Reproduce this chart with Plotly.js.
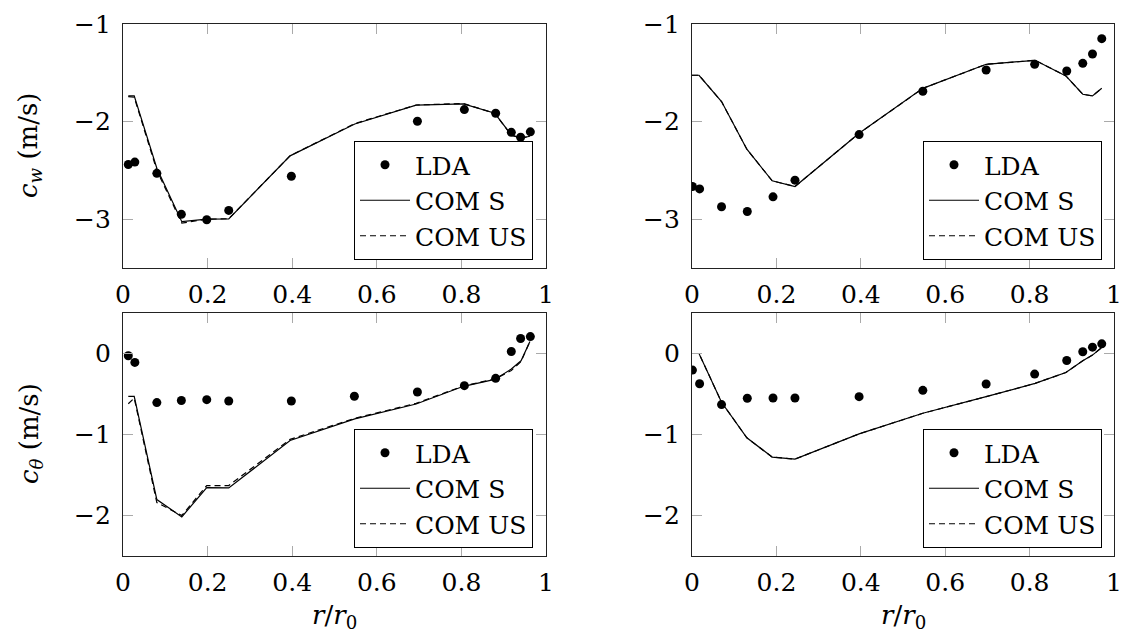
<!DOCTYPE html>
<html>
<head>
<meta charset="utf-8">
<script src="https://cdn.plot.ly/plotly-3.0.1.min.js"></script>
<style>
html,body{margin:0;padding:0;background:#fff;}
#chart{width:1121px;height:637px;}
</style>
</head>
<body>
<div id="chart"></div>
<script>
// ---------- data ----------
const seriesNames = ["LDA", "COM S", "COM US"];
const xTickVals = [0, 0.2, 0.4, 0.6, 0.8, 1];
const yTickValsTop = [-3, -2, -1];
const yTickValsBottom = [-2, -1, 0];

// left column (c_w top, c_theta bottom)
const rLdaTL = [0.0125, 0.028, 0.08, 0.138, 0.198, 0.25, 0.398, 0.696, 0.807, 0.881, 0.918, 0.94, 0.963];
const cwLdaTL = [-2.44, -2.415, -2.53, -2.95, -3.006, -2.91, -2.56, -1.996, -1.877, -1.915, -2.11, -2.16, -2.105];
const rComL = [0.0125, 0.0265, 0.08, 0.139, 0.198, 0.25, 0.395, 0.548, 0.693, 0.805, 0.879, 0.918, 0.941, 0.962];
const cwComSTL = [-1.737, -1.737, -2.477, -3.025, -3.0, -2.997, -2.351, -2.024, -1.832, -1.819, -1.915, -2.136, -2.17, -2.15];
const cwComUSTL = [-1.745, -1.75, -2.5, -3.04, -3.0, -2.995, -2.35, -2.02, -1.83, -1.815, -1.915, -2.14, -2.17, -2.15];

const rLdaBL = [0.0125, 0.028, 0.08, 0.138, 0.198, 0.25, 0.398, 0.547, 0.696, 0.807, 0.881, 0.918, 0.94, 0.963];
const ctLdaBL = [-0.028, -0.11, -0.606, -0.58, -0.57, -0.586, -0.586, -0.528, -0.475, -0.397, -0.307, 0.025, 0.185, 0.209];
const ctComSBL = [-0.53, -0.53, -1.803, -2.017, -1.656, -1.66, -1.074, -0.807, -0.623, -0.405, -0.32, -0.192, -0.09, 0.148];
const ctComUSBL = [-0.62, -0.55, -1.84, -2.0, -1.63, -1.63, -1.06, -0.80, -0.615, -0.40, -0.315, -0.21, -0.1, 0.15];

// right column
const rLdaR = [0.001, 0.018, 0.07, 0.131, 0.192, 0.244, 0.396, 0.547, 0.697, 0.812, 0.888, 0.926, 0.949, 0.971];
const cwLdaTR = [-2.665, -2.69, -2.873, -2.921, -2.771, -2.60, -2.133, -1.689, -1.471, -1.413, -1.481, -1.403, -1.307, -1.15];
const ctLdaBR = [-0.205, -0.373, -0.631, -0.553, -0.549, -0.549, -0.533, -0.455, -0.377, -0.254, -0.086, 0.021, 0.078, 0.119];
const rComR = [0, 0.0166, 0.07, 0.13, 0.19, 0.244, 0.396, 0.547, 0.697, 0.813, 0.886, 0.926, 0.949, 0.971];
const cwComSTR = [-1.525, -1.525, -1.795, -2.283, -2.607, -2.665, -2.12, -1.659, -1.413, -1.372, -1.532, -1.72, -1.737, -1.659];
const cwComUSTR = [-1.525, -1.525, -1.795, -2.283, -2.607, -2.665, -2.12, -1.659, -1.413, -1.372, -1.532, -1.72, -1.737, -1.659];
const ctComSBR = [0.0, 0.0, -0.602, -1.041, -1.279, -1.304, -0.992, -0.738, -0.533, -0.369, -0.234, -0.09, -0.02, 0.074];
const ctComUSBR = [0.0, 0.0, -0.602, -1.041, -1.279, -1.304, -0.992, -0.738, -0.533, -0.369, -0.234, -0.09, -0.02, 0.074];

// ---------- build ----------
const FONT = "DejaVu Serif";
const panels = [
  {xa: "x",  ya: "y",  lg: "legend",  lda: [rLdaTL, cwLdaTL], s: [rComL, cwComSTL], us: [rComL, cwComUSTL]},
  {xa: "x2", ya: "y2", lg: "legend2", lda: [rLdaR, cwLdaTR],  s: [rComR, cwComSTR], us: [rComR, cwComUSTR]},
  {xa: "x3", ya: "y3", lg: "legend3", lda: [rLdaBL, ctLdaBL], s: [rComL, ctComSBL], us: [rComL, ctComUSBL]},
  {xa: "x4", ya: "y4", lg: "legend4", lda: [rLdaR, ctLdaBR],  s: [rComR, ctComSBR], us: [rComR, ctComUSBR]}
];
const traces = [];
panels.forEach(p => {
  traces.push({x: p.lda[0], y: p.lda[1], xaxis: p.xa, yaxis: p.ya, legend: p.lg, name: seriesNames[0],
    type: "scatter", mode: "markers", marker: {color: "#000", size: 9, symbol: "circle"}});
  traces.push({x: p.s[0], y: p.s[1], xaxis: p.xa, yaxis: p.ya, legend: p.lg, name: seriesNames[1],
    type: "scatter", mode: "lines", line: {color: "#000", width: 1.2}});
  traces.push({x: p.us[0], y: p.us[1], xaxis: p.xa, yaxis: p.ya, legend: p.lg, name: seriesNames[2],
    type: "scatter", mode: "lines", line: {color: "#000", width: 1.2, dash: "6px,4px"}});
});

const W = 1121, H = 637;
const colX = [[123 / W, 546 / W], [692 / W, 1114 / W]];
const rowY = [[1 - 268 / H, 1 - 24 / H], [1 - 556 / H, 1 - 313 / H]];

function xAxis(col, row, anchor) {
  return {domain: colX[col], anchor: anchor, range: [0, 1], tickvals: xTickVals,
    ticks: "inside", ticklen: 10, tickwidth: 1, tickcolor: "#aaa", showline: true, linecolor: "#222",
    linewidth: 1.2, mirror: "ticks", showgrid: false, zeroline: false, ticklabeloverflow: "allow",
    tickfont: {family: FONT, size: 25, color: "#000"}, ticklabelstandoff: 4};
}
function yAxis(col, row, anchor, rng, tv) {
  return {domain: rowY[row], anchor: anchor, range: rng, tickvals: tv,
    ticks: "inside", ticklen: 10, tickwidth: 1, tickcolor: "#aaa", showline: true, linecolor: "#222",
    linewidth: 1.2, mirror: "ticks", showgrid: false, zeroline: false, ticklabeloverflow: "allow",
    tickfont: {family: FONT, size: 25, color: "#000"}, ticklabelstandoff: 6};
}
function legendAt(xr, yb) {
  return {x: xr / W, y: 1 - yb / H, xref: "paper", yref: "paper", xanchor: "right", yanchor: "bottom",
    bgcolor: "#fff", bordercolor: "#000", borderwidth: 1, font: {family: FONT, size: 25, color: "#000"},
    itemwidth: 50, tracegroupgap: 0};
}

const layout = {
  width: W, height: H, margin: {l: 0, r: 0, t: 0, b: 0},
  paper_bgcolor: "#fff", plot_bgcolor: "#fff", showlegend: true,
  font: {family: FONT, color: "#000"},
  xaxis: xAxis(0, 0, "y"), yaxis: yAxis(0, 0, "x", [-3.5, -1], yTickValsTop),
  xaxis2: xAxis(1, 0, "y2"), yaxis2: yAxis(1, 0, "x2", [-3.5, -1], yTickValsTop),
  xaxis3: xAxis(0, 1, "y3"), yaxis3: yAxis(0, 1, "x3", [-2.5, 0.5], yTickValsBottom),
  xaxis4: xAxis(1, 1, "y4"), yaxis4: yAxis(1, 1, "x4", [-2.5, 0.5], yTickValsBottom),
  legend: legendAt(533, 260), legend2: legendAt(1102, 260),
  legend3: legendAt(533, 548), legend4: legendAt(1102, 548),
  annotations: [
    {text: "<i>c</i><sub><i>w</i></sub> (m/s)", xref: "paper", yref: "paper", x: 30 / W, y: 1 - 146 / H,
      textangle: -90, showarrow: false, xanchor: "center", yanchor: "middle", font: {family: FONT, size: 26, color: "#000"}},
    {text: "<i>c</i><sub><i>θ</i></sub> (m/s)", xref: "paper", yref: "paper", x: 30 / W, y: 1 - 434 / H,
      textangle: -90, showarrow: false, xanchor: "center", yanchor: "middle", font: {family: FONT, size: 26, color: "#000"}},
    {text: "<i>r</i>/<i>r</i><sub>0</sub>", xref: "paper", yref: "paper", x: 334.5 / W, y: 1 - 616 / H,
      showarrow: false, xanchor: "center", yanchor: "middle", font: {family: FONT, size: 26, color: "#000"}},
    {text: "<i>r</i>/<i>r</i><sub>0</sub>", xref: "paper", yref: "paper", x: 903 / W, y: 1 - 616 / H,
      showarrow: false, xanchor: "center", yanchor: "middle", font: {family: FONT, size: 26, color: "#000"}}
  ]
};

Plotly.newPlot("chart", traces, layout, {staticPlot: true, displayModeBar: false});
</script>
</body>
</html>
